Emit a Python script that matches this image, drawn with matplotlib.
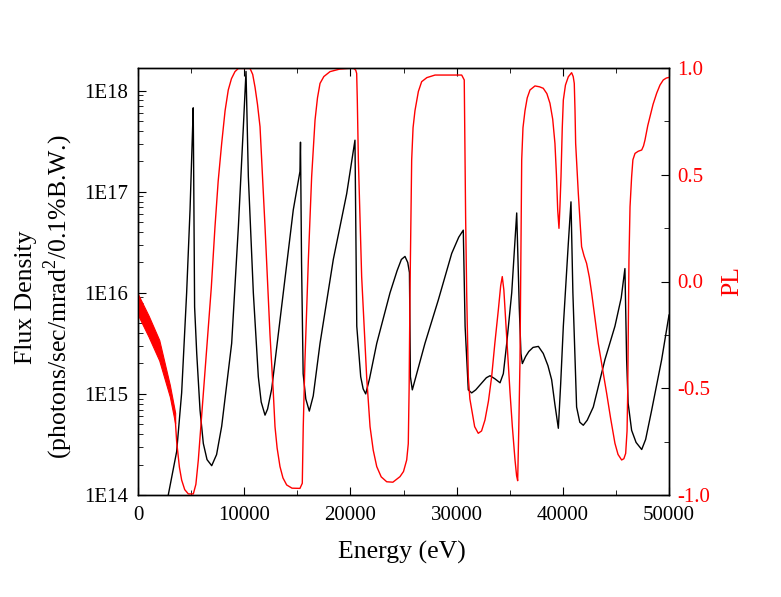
import numpy as np
import matplotlib
matplotlib.use("Agg")
import matplotlib.pyplot as plt
from matplotlib.ticker import MultipleLocator, FixedLocator, FuncFormatter, LogLocator, NullFormatter

plt.rcParams['font.family'] = ['Liberation Serif', 'DejaVu Serif']
plt.rcParams['mathtext.fontset'] = 'custom'
plt.rcParams['mathtext.rm'] = 'Liberation Serif'

# Flux density (black, left log axis) (log10 of the value)
flux_energy = [2850, 3640, 4110, 4580, 4900, 5115, 5200, 5330, 5530, 5840, 6150, 6500,
               6940, 7400, 7880, 8820, 9450, 9920, 10170, 10390, 10860, 11330, 11600,
               11960, 12200, 12590, 13680, 14620, 15250, 15300, 15400, 15550, 15800,
               16130, 16500, 17140, 18390, 19650, 20430, 20600, 20970, 21200, 21440,
               21800, 22480, 23730, 24400, 24800, 25140, 25400, 25560, 25650, 25830,
               27020, 28280, 29540, 30200, 30630, 30800, 31100, 31420, 31800, 32300,
               32800, 33150, 33600, 34090, 34400, 34720, 35190, 35660, 35900, 36060,
               36190, 36500, 36800, 37200, 37700, 38160, 38600, 38950, 39250, 39580,
               39800, 40050, 40520, 40770, 40950, 41300, 41600, 41930, 42300, 42870,
               43970, 44910, 45500, 45850, 46010, 46150, 46480, 46900, 47430, 47800,
               48370, 49310, 50000]
flux_log = [14.0, 14.43, 15.01, 16.0, 16.82, 17.54, 17.83, 15.86, 15.40, 14.84, 14.51, 14.35,
            14.29, 14.40, 14.68, 15.5, 16.65, 17.64, 18.19, 17.15, 16.0, 15.17, 14.92,
            14.79, 14.85, 15.05, 16.0, 16.82, 17.2, 17.49, 16.3, 15.2, 14.95,
            14.83, 14.98, 15.5, 16.33, 16.98, 17.51, 15.67, 15.17, 15.05, 15.0,
            15.15, 15.5, 16.0, 16.22, 16.33, 16.36, 16.30, 16.2, 15.17, 15.04,
            15.5, 15.93, 16.39, 16.55, 16.62, 15.67, 15.04, 15.01, 15.04, 15.10,
            15.16, 15.18, 15.15, 15.11, 15.2, 15.5, 16.0, 16.79, 15.86, 15.4,
            15.3, 15.37, 15.42, 15.46, 15.47, 15.40, 15.28, 15.14, 14.9, 14.66,
            15.1, 15.67, 16.49, 16.90, 16.0, 14.87, 14.72, 14.69, 14.74, 14.87,
            15.34, 15.67, 15.95, 16.24, 15.34, 14.91, 14.64, 14.52, 14.45, 14.55,
            14.84, 15.34, 15.78]

# PL (red, right axis)
pl_energy = [3500, 3640, 3900, 4110, 4400, 4740, 5210, 5450, 5680, 5900, 6150, 6620,
             6900, 7250, 7550, 7880, 8200, 8500, 8800, 9130, 9450, 10550, 10800, 11020,
             11250, 11490, 11720, 11960, 12200, 12430, 12740, 12900, 13100, 13370, 13650,
             14000, 14500, 15250, 15470, 15560, 15720, 16040, 16350, 16670, 16900, 17140,
             17500, 18080, 19000, 20270, 20500, 20590, 20650, 20750, 20900, 21060, 21300,
             21530, 21850, 22150, 22480, 22900, 23420, 24000, 24670, 25000, 25300, 25450,
             25530, 25610, 25700, 25770, 25900, 26080, 26400, 26710, 27200, 27970, 30480,
             30720, 30780, 30850, 30950, 31100, 31250, 31420, 31700, 32040, 32350, 32670,
             33000, 33300, 33600, 33930, 34150, 34300, 34450, 34560, 34800, 35030, 35250,
             35500, 35650, 35750, 35850, 35970, 36050, 36130, 36250, 36440, 36650, 36910,
             37380, 37800, 38160, 38500, 38790, 39050, 39260, 39400, 39520, 39640, 39730,
             39830, 39950, 40050, 40250, 40520, 40830, 40980, 41080, 41150, 41210, 41460,
             41770, 42000, 42240, 42500, 42720, 43340, 44130, 44500, 44910, 45200, 45540,
             45750, 45920, 46050, 46110, 46170, 46230, 46330, 46480, 46600, 46800, 47100,
             47430, 47600, 47740, 48000, 48210, 48500, 48840, 49150, 49460, 49750, 50000]
pl_value = [-0.64, -0.75, -0.87, -0.93, -0.975, -0.995, -0.995, -0.95, -0.836, -0.69, -0.52, -0.21,
            -0.03, 0.257, 0.47, 0.647, 0.80, 0.897, 0.95, 0.983, 0.998, 0.998, 0.97, 0.91,
            0.83, 0.725, 0.50, 0.257, 0.0, -0.25, -0.52, -0.68, -0.78, -0.867, -0.92,
            -0.953, -0.968, -0.969, -0.945, -0.68, -0.37, 0.10, 0.49, 0.756, 0.86, 0.928,
            0.96, 0.983, 0.995, 1.0, 0.99, 0.975, 0.85, 0.57, 0.30, 0.023, -0.22,
            -0.446, -0.68, -0.79, -0.867, -0.915, -0.938, -0.94, -0.914, -0.89, -0.836, -0.76,
            -0.5, -0.054, 0.3, 0.57, 0.72, 0.80, 0.89, 0.936, 0.955, 0.967, 0.967,
            0.944, 0.647, 0.3, -0.055, -0.446, -0.55, -0.60, -0.68, -0.711, -0.70, -0.649,
            -0.56, -0.446, -0.29, -0.133, -0.02, 0.023, -0.04, -0.133, -0.33, -0.52, -0.68,
            -0.836, -0.91, -0.933, -0.7, -0.37, 0.1, 0.57, 0.72, 0.80, 0.86, 0.897,
            0.916, 0.912, 0.905, 0.88, 0.835, 0.76, 0.647, 0.5, 0.335, 0.249, 0.35,
            0.49, 0.72, 0.85, 0.92, 0.959, 0.978, 0.96, 0.928, 0.8, 0.647, 0.413,
            0.163, 0.12, 0.085, 0.02, -0.055, -0.29, -0.524, -0.64, -0.758, -0.81, -0.836,
            -0.83, -0.805, -0.7, -0.524, -0.2, 0.10, 0.35, 0.49, 0.57, 0.60, 0.61,
            0.616, 0.635, 0.663, 0.73, 0.772, 0.83, 0.882, 0.92, 0.944, 0.953, 0.956]

# thick red band at low energy
band_energy = [0, 1000, 2000, 3000, 3500]
band_upper = [-0.059, -0.160, -0.274, -0.485, -0.615]
band_lower = [-0.157, -0.259, -0.370, -0.540, -0.665]

fig = plt.figure(figsize=(7.81, 5.97), dpi=100)
ax = fig.add_axes([138/781, 1-495/597, 531/781, 427/597])
ax2 = ax.twinx()

ax.plot(flux_energy, 10**np.array(flux_log), color='black', lw=1.0)
ax.set_yscale('log')
ax.set_ylim(1e14, 10**18.224)
ax.set_xlim(0, 50000)

ax2.fill_between(band_energy, band_lower, band_upper, color='red', lw=0.8, edgecolor='red')
ax2.plot(pl_energy, pl_value, color='red', lw=1.0)
ax2.set_ylim(-1.0, 1.0)

# ticks
ax.xaxis.set_major_locator(MultipleLocator(10000))
ax.xaxis.set_minor_locator(MultipleLocator(5000))
ax.yaxis.set_major_locator(FixedLocator([1e14, 1e15, 1e16, 1e17, 1e18]))
ax.yaxis.set_major_formatter(FuncFormatter(lambda v, p: "1E%d" % round(np.log10(v))))
ax.yaxis.set_minor_locator(LogLocator(base=10, subs=np.arange(2, 10)))
ax.yaxis.set_minor_formatter(NullFormatter())
ax.tick_params(which='both', direction='in', top=True, right=False, labelsize=15)
ax.tick_params(which='major', length=6)
ax.tick_params(which='minor', length=3.5)
ax.tick_params(axis='y', pad=7)
ax.tick_params(axis='x', pad=8)

ax2.yaxis.set_major_locator(MultipleLocator(0.5))
ax2.yaxis.set_minor_locator(MultipleLocator(0.25))
ax2.yaxis.set_major_formatter(FuncFormatter(lambda v, p: "%.1f" % v))
ax2.tick_params(which='both', direction='in', labelsize=15, labelcolor='red', pad=6)
ax2.tick_params(which='major', length=6)
ax2.tick_params(which='minor', length=3.5)

for a in (ax, ax2):
    for s in a.spines.values():
        s.set_linewidth(1.0)

fig.text(45/781, 1-297/597, "Flux Density\n(photons/sec/mrad$^{2}$/0.1%B.W.)",
         rotation=90, ha='center', va='center', multialignment='center', fontsize=18.5)
fig.text(402/781, 1-552/597, "Energy (eV)", ha='center', va='center', fontsize=18.5)
fig.text(732/781, 1-281/597, "PL", rotation=90, ha='center', va='center',
         fontsize=18.5, color='red')

fig.savefig("out.png", dpi=100)
